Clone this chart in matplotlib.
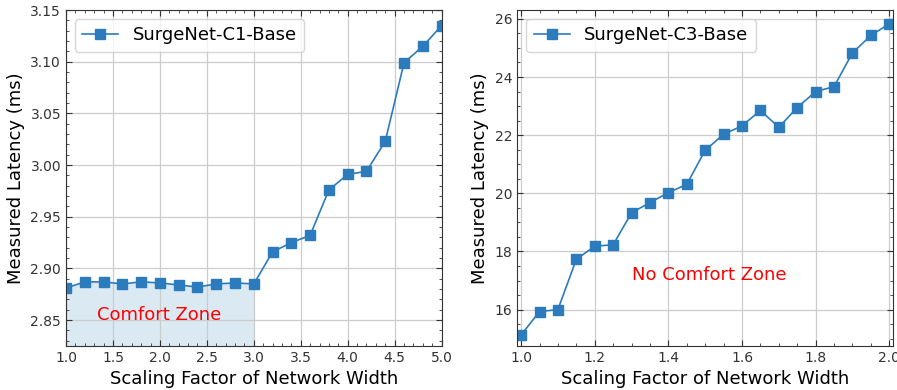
import numpy as np
import matplotlib.pyplot as plt

# SurgeNet-C1-Base: latency vs width scaling factor
c1_width = [1.0, 1.2, 1.4, 1.6, 1.8, 2.0, 2.2, 2.4, 2.6, 2.8, 3.0,
            3.2, 3.4, 3.6, 3.8, 4.0, 4.2, 4.4, 4.6, 4.8, 5.0]
c1_latency = [2.881, 2.887, 2.887, 2.885, 2.887, 2.886, 2.884, 2.882, 2.885, 2.886, 2.885,
              2.916, 2.925, 2.932, 2.976, 2.991, 2.994, 3.023, 3.099, 3.115, 3.135]

# SurgeNet-C3-Base
c3_width = [1.00, 1.05, 1.10, 1.15, 1.20, 1.25, 1.30, 1.35, 1.40, 1.45, 1.50,
            1.55, 1.60, 1.65, 1.70, 1.75, 1.80, 1.85, 1.90, 1.95, 2.00]
c3_latency = [15.13, 15.93, 16.00, 17.73, 18.18, 18.23, 19.33, 19.68, 20.02, 20.31, 21.48,
              22.03, 22.32, 22.85, 22.27, 22.95, 23.50, 23.67, 24.83, 25.43, 25.83]

comfort_end = 3.0
blue = '#2c7bbd'

plt.rcParams.update({
    'xtick.direction': 'in', 'ytick.direction': 'in',
    'xtick.top': True, 'ytick.right': True,
    'xtick.minor.visible': True, 'ytick.minor.visible': True,
    'xtick.labelsize': 10, 'ytick.labelsize': 10,
    'xtick.color': '#333333', 'ytick.color': '#333333',
    'axes.labelsize': 13, 'axes.edgecolor': '#333333',
})

fig, (ax1, ax2) = plt.subplots(1, 2, figsize=(8.97, 3.9), dpi=100)

ax1.plot(c1_width, c1_latency, marker='s', markersize=6.5, color=blue, lw=1.2,
         label='SurgeNet-C1-Base')
x1 = np.array(c1_width)
y1 = np.array(c1_latency)
mask = x1 <= comfort_end
ax1.fill_between(x1[mask], 2.825, y1[mask], color='#1f77b4', alpha=0.16, lw=0)
ax1.text(1.33, 2.855, 'Comfort Zone', color='red', fontsize=13, va='center')
ax1.set_xlim(1.0, 5.0)
ax1.set_ylim(2.825, 3.15)
ax1.set_xticks(np.arange(1.0, 5.01, 0.5))
ax1.set_yticks([2.85, 2.90, 2.95, 3.00, 3.05, 3.10, 3.15])
ax1.set_xlabel('Scaling Factor of Network Width')
ax1.set_ylabel('Measured Latency (ms)')
ax1.grid(True, color='#cccccc', lw=0.9)
ax1.legend(loc='upper left', fontsize=13)

ax2.plot(c3_width, c3_latency, marker='s', markersize=6.5, color=blue, lw=1.2,
         label='SurgeNet-C3-Base')
ax2.text(1.3, 17.2, 'No Comfort Zone', color='red', fontsize=13, va='center')
ax2.set_xlim(0.99, 2.01)
ax2.set_ylim(14.75, 26.3)
ax2.set_xticks(np.arange(1.0, 2.01, 0.2))
ax2.set_yticks([16, 18, 20, 22, 24, 26])
ax2.set_xlabel('Scaling Factor of Network Width')
ax2.set_ylabel('Measured Latency (ms)')
ax2.grid(True, color='#cccccc', lw=0.9)
ax2.legend(loc='upper left', fontsize=13)

for ax in (ax1, ax2):
    ax.tick_params(which='major', length=4)
    ax.tick_params(which='minor', length=2)

plt.subplots_adjust(left=0.0736, right=0.9955, bottom=0.113, top=0.974, wspace=0.202)
plt.savefig('out.png')
